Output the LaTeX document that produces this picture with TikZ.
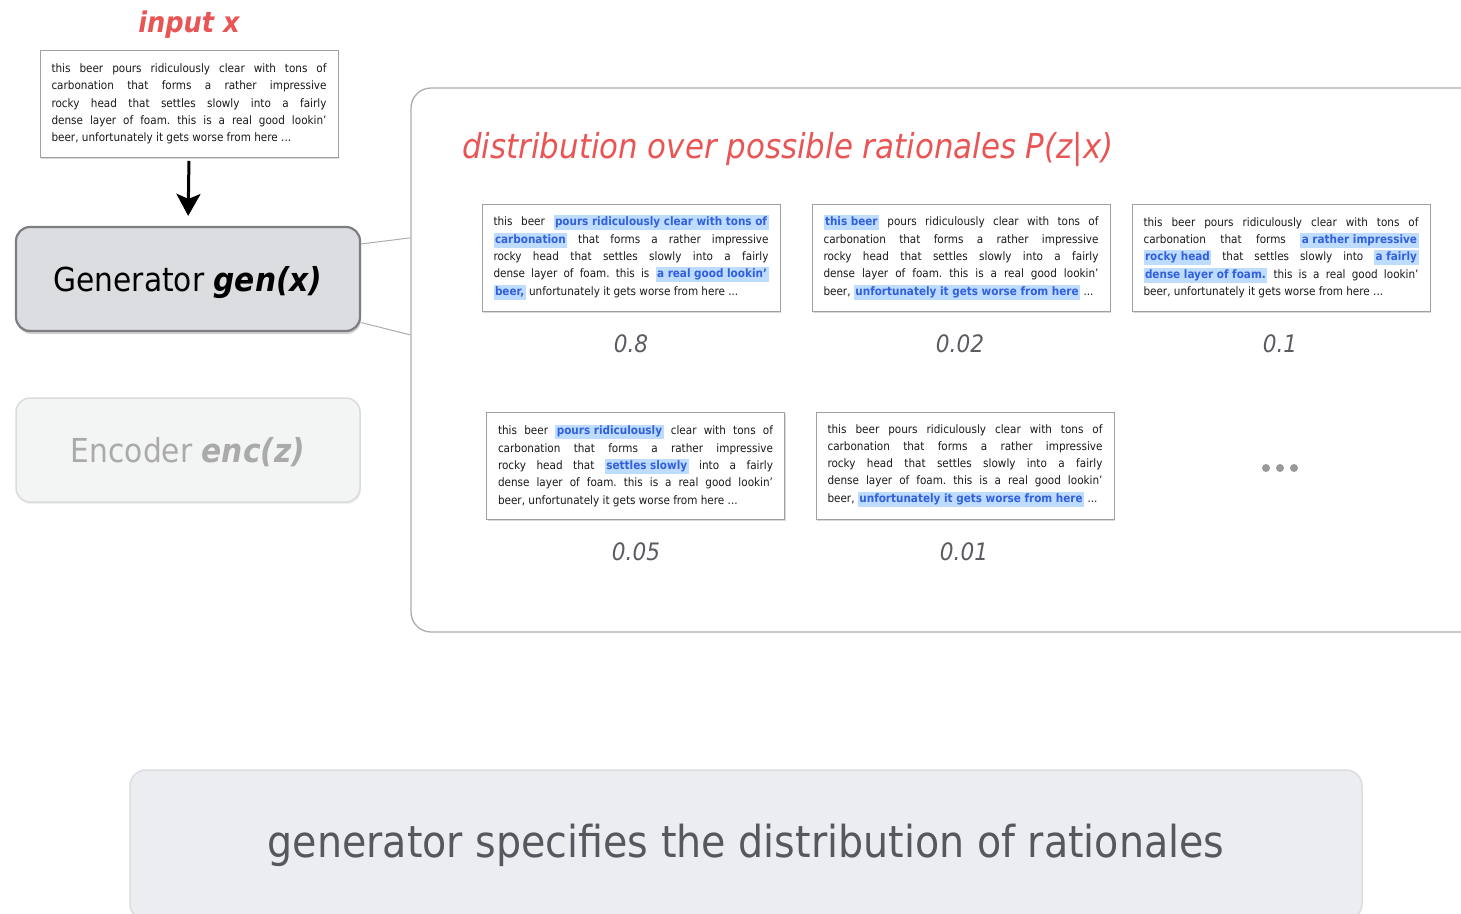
\documentclass[tikz,border=0pt]{standalone}
\usepackage{fontspec}
\setmainfont{DejaVu Sans}[FakeStretch=0.9]
\usetikzlibrary{shadows,calc,arrows.meta}
\definecolor{redt}{RGB}{233,84,84}
\definecolor{genfill}{RGB}{220,221,224}
\definecolor{genborder}{RGB}{125,126,130}
\definecolor{encfill}{RGB}{243,244,244}
\definecolor{encborder}{RGB}{218,220,220}
\definecolor{enctext}{RGB}{170,170,170}
\definecolor{panelborder}{RGB}{172,172,172}
\definecolor{cardborder}{RGB}{160,160,160}
\definecolor{botfill}{RGB}{236,237,240}
\definecolor{botborder}{RGB}{220,221,224}
\definecolor{bottext}{RGB}{85,88,95}
\definecolor{probtext}{RGB}{90,92,98}
\definecolor{txt}{RGB}{25,25,25}
\definecolor{hlbg}{RGB}{190,220,255}
\definecolor{hlfg}{RGB}{50,95,220}
\newlength{\cw}\setlength{\cw}{275pt}
\newcommand{\hlt}[1]{{\setlength{\fboxsep}{1.5pt}\colorbox{hlbg}{\rule[-3pt]{0pt}{11pt}\color{hlfg}\bfseries #1}}}
\newcommand{\jl}[1]{\makebox[\cw][s]{#1}}
\newcommand{\cardtext}[5]{\begin{minipage}{\cw}\frenchspacing\fontsize{11.6}{17.3}\selectfont\color{txt}\lineskiplimit=-20pt\relax
\jl{#1}\\\jl{#2}\\\jl{#3}\\\jl{#4}\\\makebox[\cw][l]{#5}\end{minipage}}
\tikzset{
  card/.style={draw=cardborder, line width=0.7pt, fill=white, minimum width=298pt, minimum height=107pt, inner sep=0pt,
    drop shadow={shadow xshift=1pt, shadow yshift=-1.5pt, opacity=0.3, fill=black!50}},
  prob/.style={font=\fontsize{24}{28}\selectfont\itshape, text=probtext},
  genbox/.style={draw=genborder, line width=2.2pt, fill=genfill, rounded corners=14pt, minimum width=344pt, minimum height=104pt,
    drop shadow={shadow xshift=1pt, shadow yshift=-3pt, opacity=0.35, fill=black!50}},
  encbox/.style={draw=encborder, line width=1.5pt, fill=encfill, rounded corners=14pt, minimum width=344pt, minimum height=104pt,
    drop shadow={shadow xshift=1pt, shadow yshift=-2pt, opacity=0.12, fill=black!50}},
  conn/.style={draw=panelborder, line width=1pt},
  dotn/.style={circle, fill=black!40, inner sep=0pt, minimum size=8pt},
}
\begin{document}
\begin{tikzpicture}[x=1pt,y=-1pt]
\useasboundingbox (0,0) rectangle (1461,913);
% panel
\node[draw=panelborder, line width=1.3pt, rounded corners=20pt, minimum width=1098pt, minimum height=544pt, inner sep=0pt] (panel) at (960,360) {};
% input label
\node[font=\fontsize{28.5}{32}\selectfont\bfseries\itshape, text=redt] (inlabel) at (189,25) {input x};
% input box
\node[card] (input) at (189,104) {\cardtext
  {this beer pours ridiculously clear with tons of}
  {carbonation that forms a rather impressive}
  {rocky head that settles slowly into a fairly}
  {dense layer of foam. this is a real good lookin'}
  {beer, unfortunately it gets worse from here ...}};
% generator & encoder
\node[genbox, font=\fontsize{33}{38}\selectfont, text=black, text depth=3pt, text height=27pt] (gen) at (188,279) {Generator \textbf{\textit{gen(x)}}};
\node[encbox, font=\fontsize{33}{38}\selectfont, text=enctext, text depth=3pt, text height=27pt] (enc) at (188,450) {Encoder \textbf{\textit{enc(z)}}};
\draw[-{Stealth[length=22pt,width=24pt,inset=5pt]}, line width=3pt, shorten <=3pt, shorten >=10pt] (input.south) -- (gen.north);
% connectors
\draw[conn] ($(gen.north east)!0.17!(gen.south east)$) -- ($(panel.north west)!0.276!(panel.south west)$);
\draw[conn] ($(gen.north east)!0.91!(gen.south east)$) -- ($(panel.north west)!0.454!(panel.south west)$);
% title
\node[anchor=west, font=\fontsize{34.3}{40}\selectfont\itshape, text=redt, inner sep=0pt] (title) at (462,149) {distribution over possible rationales P(z|x)};
% cards
\node[card] (c1) at (631,257.5) {\cardtext
  {this beer \hlt{pours ridiculously clear with tons of}}
  {\hlt{carbonation} that forms a rather impressive}
  {rocky head that settles slowly into a fairly}
  {dense layer of foam. this is \hlt{a real good lookin'}}
  {\hlt{beer,} unfortunately it gets worse from here ...}};
\node[card] (c2) at (961,257.5) {\cardtext
  {\hlt{this beer} pours ridiculously clear with tons of}
  {carbonation that forms a rather impressive}
  {rocky head that settles slowly into a fairly}
  {dense layer of foam. this is a real good lookin'}
  {beer, \hlt{unfortunately it gets worse from here} ...}};
\node[card] (c3) at (1281,257.5) {\cardtext
  {this beer pours ridiculously clear with tons of}
  {carbonation that forms \hlt{a rather impressive}}
  {\hlt{rocky head} that settles slowly into \hlt{a fairly}}
  {\hlt{dense layer of foam.} this is a real good lookin'}
  {beer, unfortunately it gets worse from here ...}};
\node[card] (c4) at (635.5,465.5) {\cardtext
  {this beer \hlt{pours ridiculously} clear with tons of}
  {carbonation that forms a rather impressive}
  {rocky head that \hlt{settles slowly} into a fairly}
  {dense layer of foam. this is a real good lookin'}
  {beer, unfortunately it gets worse from here ...}};
\node[card] (c5) at (965,465.5) {\cardtext
  {this beer pours ridiculously clear with tons of}
  {carbonation that forms a rather impressive}
  {rocky head that settles slowly into a fairly}
  {dense layer of foam. this is a real good lookin'}
  {beer, \hlt{unfortunately it gets worse from here} ...}};
% probabilities
\node[prob] (p1) at (631,344) {0.8};
\node[prob] (p2) at (960,344) {0.02};
\node[prob] (p3) at (1280,344) {0.1};
\node[prob] (p4) at (636,552) {0.05};
\node[prob] (p5) at (964,552) {0.01};
% dots
\node[dotn] (d1) at (1266,468) {};
\node[dotn] (d2) at (1280,468) {};
\node[dotn] (d3) at (1294,468) {};
% bottom box
\node[draw=botborder, line width=1.5pt, fill=botfill, rounded corners=16pt, minimum width=1232pt, minimum height=150pt,
  font=\fontsize{44}{50}\selectfont, text=bottext] (bottom) at (746,845) {generator specifies the distribution of rationales};
\end{tikzpicture}
\end{document}
